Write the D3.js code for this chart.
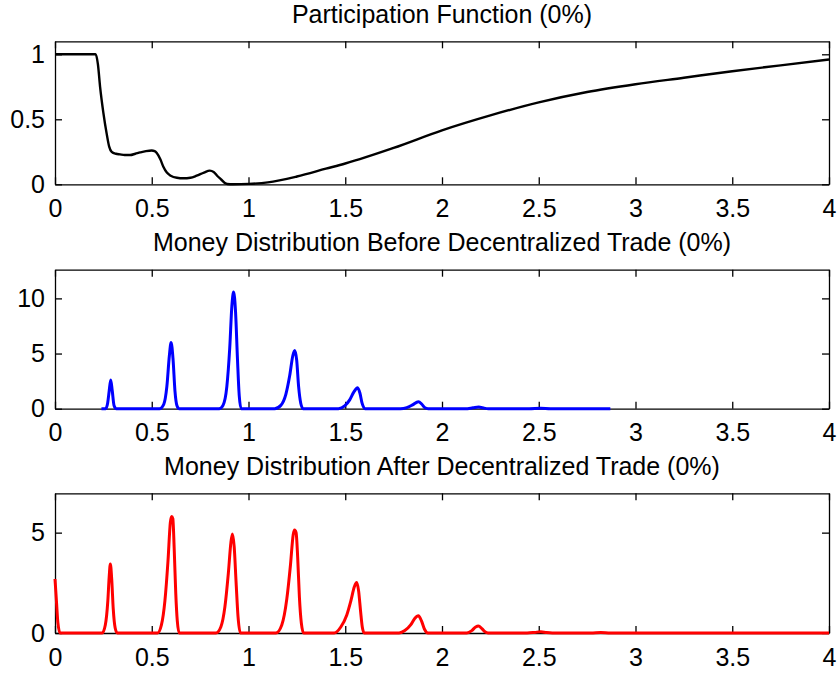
<!DOCTYPE html>
<html>
<head>
<meta charset="utf-8">
<script src="https://cdn.jsdelivr.net/npm/d3@7"></script>
<style>
  body { margin: 0; background: #fff; }
  svg { display: block; }
  text { font-family: "Liberation Sans", Arial, Helvetica, sans-serif; }
</style>
</head>
<body>
<div id="chart"></div>
<script>
// values
const xTicks = [0, 0.5, 1, 1.5, 2, 2.5, 3, 3.5, 4];

const titles = [
  "Participation Function (0%)",
  "Money Distribution Before Decentralized Trade (0%)",
  "Money Distribution After Decentralized Trade (0%)"
];

const yTicks1 = [0, 0.5, 1];
const yTicks2 = [0, 5, 10];
const yTicks3 = [0, 5];

const yMax = [1.1, 12.6, 6.96];

// [money, participation]
const participation = [
  [0, 1], [0.21, 1], [0.222, 0.92], [0.233, 0.75], [0.25, 0.55], [0.267, 0.39],
  [0.28, 0.29], [0.293, 0.25], [0.315, 0.235], [0.336, 0.23], [0.36, 0.225],
  [0.388, 0.225], [0.415, 0.235], [0.44, 0.245], [0.47, 0.255], [0.5, 0.26],
  [0.515, 0.255], [0.526, 0.24], [0.545, 0.19], [0.56, 0.135], [0.578, 0.09],
  [0.598, 0.066], [0.63, 0.05], [0.663, 0.046], [0.7, 0.05], [0.732, 0.066],
  [0.77, 0.09], [0.8, 0.105], [0.82, 0.095], [0.839, 0.064], [0.86, 0.035],
  [0.878, 0.01], [0.89, 0.002], [0.92, 0], [1.0, 0.003], [1.1, 0.015],
  [1.25, 0.06], [1.4, 0.12], [1.5, 0.16], [1.75, 0.28], [2, 0.415],
  [2.25, 0.53], [2.5, 0.63], [2.75, 0.71], [3, 0.77], [3.25, 0.82],
  [3.5, 0.87], [3.75, 0.915], [4, 0.96]
];

// [money, density] before decentralized trade
const moneyBefore = [
  [0.24, 0],
  [0.262, 0], [0.272, 0.5], [0.28, 1.6], [0.288, 2.6], [0.296, 1.6], [0.305, 0.3], [0.317, 0],
  [0.54, 0], [0.562, 0.4], [0.578, 2.0], [0.591, 4.8], [0.6, 6.0], [0.61, 4.5], [0.62, 1.6], [0.63, 0.3], [0.642, 0],
  [0.848, 0], [0.868, 0.3], [0.888, 2.0], [0.903, 5.5], [0.914, 9.3], [0.923, 10.58], [0.933, 8.8], [0.943, 4.5], [0.952, 1.2], [0.962, 0],
  [1.135, 0], [1.167, 0.3], [1.193, 1.3], [1.213, 3.0], [1.229, 4.8], [1.239, 5.27], [1.249, 4.4], [1.259, 2.0], [1.27, 0.5], [1.282, 0],
  [1.465, 0], [1.497, 0.25], [1.523, 0.8], [1.544, 1.5], [1.564, 1.9], [1.576, 1.4], [1.587, 0.5], [1.602, 0],
  [1.785, 0], [1.818, 0.1], [1.848, 0.35], [1.878, 0.64], [1.896, 0.4], [1.912, 0.08], [1.928, 0],
  [2.12, 0], [2.16, 0.08], [2.19, 0.15], [2.21, 0.08], [2.24, 0],
  [2.45, 0], [2.51, 0.03], [2.56, 0],
  [2.87, 0]
];

// [money, density] after decentralized trade
const moneyAfter = [
  [0, 2.69], [0.008, 1.5], [0.015, 0.5], [0.026, 0],
  [0.244, 0], [0.26, 0.4], [0.273, 1.6], [0.28, 2.8], [0.286, 3.44], [0.293, 2.7], [0.301, 1.2], [0.311, 0.25], [0.322, 0],
  [0.53, 0], [0.55, 0.4], [0.568, 1.6], [0.584, 3.6], [0.596, 5.5], [0.603, 5.8], [0.609, 5.7], [0.616, 4.2], [0.624, 2.0], [0.632, 0.6], [0.642, 0],
  [0.832, 0], [0.857, 0.3], [0.878, 1.3], [0.896, 3.0], [0.909, 4.5], [0.917, 4.93], [0.926, 4.3], [0.936, 2.5], [0.946, 0.8], [0.958, 0],
  [1.142, 0], [1.172, 0.4], [1.198, 1.7], [1.217, 3.4], [1.231, 4.9], [1.238, 5.13], [1.246, 5.0], [1.254, 3.8], [1.263, 1.8], [1.273, 0.5], [1.285, 0],
  [1.443, 0], [1.477, 0.3], [1.508, 0.9], [1.529, 1.6], [1.547, 2.3], [1.559, 2.51], [1.569, 2.1], [1.579, 1.1], [1.588, 0.3], [1.598, 0],
  [1.778, 0], [1.808, 0.12], [1.838, 0.4], [1.859, 0.72], [1.878, 0.86], [1.894, 0.6], [1.909, 0.2], [1.927, 0],
  [2.128, 0], [2.154, 0.12], [2.174, 0.3], [2.188, 0.35], [2.206, 0.22], [2.222, 0.06], [2.238, 0],
  [2.44, 0], [2.48, 0.03], [2.51, 0.06], [2.54, 0.02], [2.57, 0],
  [2.77, 0], [2.82, 0.02], [2.87, 0],
  [4, 0]
];

const W = 838, H = 675;
const left = 55, right = 829;
const fontSize = 25;

const panels = [
  { title: titles[0], data: participation, yTicks: yTicks1, yMax: yMax[0], top: 41.3, bottom: 184.3, color: "#000000", width: 2.4 },
  { title: titles[1], data: moneyBefore, yTicks: yTicks2, yMax: yMax[1], top: 269.7, bottom: 408.7, color: "#0000ff", width: 3 },
  { title: titles[2], data: moneyAfter, yTicks: yTicks3, yMax: yMax[2], top: 493.3, bottom: 633, color: "#ff0000", width: 3 }
];

const svg = d3.select("#chart")
  .append("svg")
  .attr("width", W)
  .attr("height", H)
  .attr("viewBox", `0 0 ${W} ${H}`);

svg.append("rect").attr("width", W).attr("height", H).attr("fill", "#fff");

const x = d3.scaleLinear().domain([0, 4]).range([left, right]);
const fmt = d => String(d);

panels.forEach(p => {
  const y = d3.scaleLinear().domain([0, p.yMax]).range([p.bottom, p.top]);
  const g = svg.append("g");

  const line = d3.line()
    .x(d => x(d[0]))
    .y(d => y(d[1]))
    .curve(d3.curveMonotoneX);

  // axes box with inward ticks
  const styleAxis = sel => {
    sel.selectAll("path").attr("stroke", "#000").attr("stroke-width", 1.3);
    sel.selectAll("line").attr("stroke", "#000").attr("stroke-width", 1.3);
    sel.selectAll("text")
      .attr("fill", "#000")
      .style("font-size", fontSize + "px")
      .style("font-family", '"Liberation Sans", Arial, Helvetica, sans-serif');
  };

  g.append("g")
    .attr("transform", `translate(0,${p.bottom})`)
    .call(d3.axisBottom(x).tickValues(xTicks).tickFormat(fmt).tickSizeInner(-7).tickSizeOuter(0).tickPadding(15))
    .call(styleAxis);

  g.append("g")
    .attr("transform", `translate(0,${p.top})`)
    .call(d3.axisTop(x).tickValues(xTicks).tickFormat("").tickSizeInner(-7).tickSizeOuter(0))
    .call(styleAxis);

  g.append("g")
    .attr("transform", `translate(${left},0)`)
    .call(d3.axisLeft(y).tickValues(p.yTicks).tickFormat(fmt).tickSizeInner(-7).tickSizeOuter(0).tickPadding(10))
    .call(styleAxis);

  g.append("g")
    .attr("transform", `translate(${right},0)`)
    .call(d3.axisRight(y).tickValues(p.yTicks).tickFormat("").tickSizeInner(-7).tickSizeOuter(0))
    .call(styleAxis);

  g.append("path")
    .datum(p.data)
    .attr("fill", "none")
    .attr("stroke", p.color)
    .attr("stroke-width", p.width)
    .attr("stroke-linejoin", "round")
    .attr("d", line);

  g.append("text")
    .attr("x", (left + right) / 2)
    .attr("y", p.top - 18.5)
    .attr("text-anchor", "middle")
    .style("font-size", fontSize + "px")
    .attr("fill", "#000")
    .text(p.title);
});
</script>
</body>
</html>
